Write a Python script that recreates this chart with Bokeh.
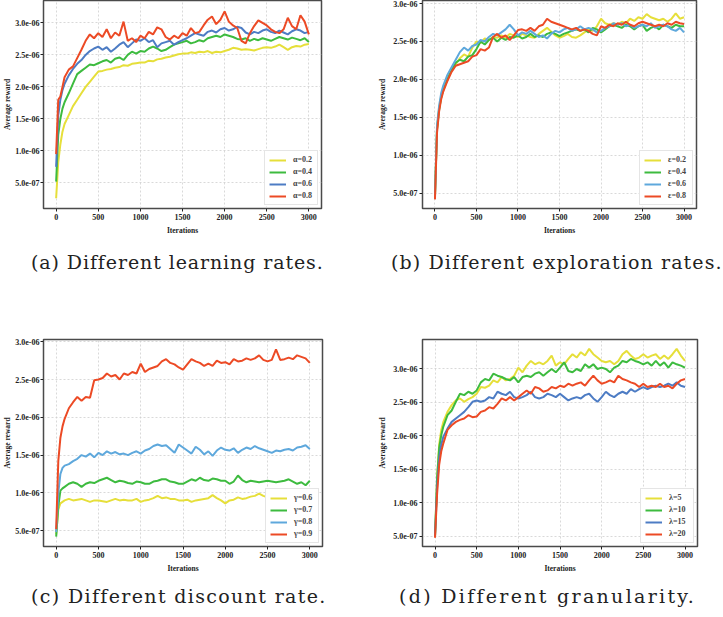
from bokeh.plotting import figure
from bokeh.models import FixedTicker, Legend, LegendItem, Div, Range1d
from bokeh.layouts import column, row
from bokeh.embed import file_html
from bokeh.resources import INLINE

# Iterations
ITER = [0, 25, 50, 75, 100, 150, 200, 250, 300, 350, 400, 450, 500, 550, 600, 650, 700, 750, 800, 850,
        900, 950, 1000, 1050, 1100, 1150, 1200, 1250, 1300, 1350, 1400, 1450, 1500, 1550, 1600, 1650,
        1700, 1750, 1800, 1850, 1900, 1950, 2000, 2050, 2100, 2150, 2200, 2250, 2300, 2350, 2400, 2450,
        2500, 2550, 2600, 2650, 2700, 2750, 2800, 2850, 2900, 2950, 3000]

# values in units of 1e-6
# (a) learning rates
A_02 = [0.26, 0.82, 1.10, 1.30, 1.42, 1.56, 1.70, 1.80, 1.90, 2.00, 2.08, 2.16, 2.24, 2.25, 2.27, 2.28, 2.30, 2.31, 2.34, 2.33,
        2.36, 2.37, 2.38, 2.38, 2.41, 2.40, 2.43, 2.44, 2.46, 2.47, 2.49, 2.51, 2.52, 2.52, 2.54, 2.53,
        2.55, 2.54, 2.56, 2.53, 2.55, 2.54, 2.56, 2.58, 2.61, 2.60, 2.58, 2.59, 2.58, 2.57, 2.59, 2.61,
        2.62, 2.61, 2.63, 2.66, 2.62, 2.58, 2.62, 2.64, 2.63, 2.66, 2.67]
A_04 = [0.52, 1.25, 1.50, 1.66, 1.76, 1.90, 2.05, 2.20, 2.25, 2.30, 2.35, 2.34, 2.37, 2.40, 2.42, 2.38, 2.44, 2.46, 2.42, 2.50,
        2.55, 2.52, 2.56, 2.55, 2.60, 2.63, 2.60, 2.56, 2.58, 2.62, 2.66, 2.68, 2.70, 2.72, 2.68, 2.70,
        2.73, 2.71, 2.76, 2.78, 2.80, 2.78, 2.82, 2.80, 2.78, 2.75, 2.74, 2.76, 2.72, 2.75, 2.73, 2.76,
        2.74, 2.72, 2.75, 2.78, 2.76, 2.74, 2.77, 2.75, 2.73, 2.76, 2.70]
A_06 = [0.75, 1.55, 1.80, 1.95, 2.05, 2.18, 2.28, 2.36, 2.42, 2.50, 2.56, 2.60, 2.63, 2.58, 2.62, 2.55, 2.60, 2.66, 2.70, 2.62,
        2.68, 2.74, 2.72, 2.76, 2.70, 2.73, 2.62, 2.68, 2.70, 2.72, 2.66, 2.70, 2.73, 2.76, 2.80, 2.84,
        2.82, 2.80, 2.86, 2.88, 2.85, 2.90, 2.92, 2.88, 2.90, 2.94, 2.92, 2.85, 2.82, 2.86, 2.84, 2.88,
        2.90, 2.86, 2.84, 2.88, 2.85, 2.82, 2.87, 2.90, 2.88, 2.84, 2.86]
A_08 = [0.95, 1.80, 1.85, 2.00, 2.15, 2.27, 2.32, 2.45, 2.58, 2.72, 2.82, 2.76, 2.84, 2.78, 2.90, 2.76, 2.85, 2.80, 3.02, 2.72,
        2.76, 2.70, 2.80, 2.76, 2.86, 2.82, 2.93, 2.90, 2.78, 2.74, 2.80, 2.76, 2.84, 2.80, 2.92, 2.84,
        2.86, 2.96, 3.05, 3.10, 2.98, 3.05, 3.18, 3.02, 2.96, 2.92, 2.72, 2.68, 2.84, 2.95, 3.04, 3.00,
        2.96, 2.90, 2.86, 2.84, 2.90, 3.08, 2.95, 2.90, 3.12, 3.02, 2.82]

# (b) exploration rates
B_02 = [0.45, 1.35, 1.62, 1.78, 1.88, 2.02, 2.12, 2.20, 2.28, 2.33, 2.30, 2.42, 2.50, 2.48, 2.54, 2.52, 2.56, 2.55, 2.58, 2.55,
        2.60, 2.58, 2.56, 2.60, 2.58, 2.56, 2.55, 2.60, 2.64, 2.68, 2.63, 2.58, 2.55, 2.57, 2.60, 2.56,
        2.55, 2.58, 2.62, 2.66, 2.64, 2.70, 2.80, 2.74, 2.72, 2.74, 2.72, 2.76, 2.74, 2.80, 2.77, 2.82,
        2.80, 2.86, 2.82, 2.80, 2.78, 2.80, 2.76, 2.80, 2.87, 2.80, 2.82]
B_04 = [0.47, 1.35, 1.60, 1.76, 1.86, 2.00, 2.12, 2.22, 2.26, 2.24, 2.30, 2.32, 2.40, 2.50, 2.46, 2.52, 2.55, 2.50, 2.55, 2.52,
        2.56, 2.55, 2.58, 2.54, 2.56, 2.60, 2.56, 2.58, 2.56, 2.60, 2.62, 2.60, 2.57, 2.60, 2.62, 2.64,
        2.66, 2.64, 2.66, 2.62, 2.68, 2.66, 2.62, 2.66, 2.70, 2.72, 2.70, 2.68, 2.72, 2.70, 2.66, 2.70,
        2.72, 2.64, 2.68, 2.70, 2.66, 2.72, 2.70, 2.68, 2.72, 2.70, 2.70]
B_06 = [0.44, 1.40, 1.65, 1.82, 1.92, 2.06, 2.16, 2.26, 2.36, 2.42, 2.38, 2.44, 2.46, 2.52, 2.50, 2.56, 2.60, 2.58, 2.62, 2.66,
        2.72, 2.66, 2.58, 2.62, 2.60, 2.64, 2.60, 2.56, 2.58, 2.54, 2.60, 2.64, 2.62, 2.66, 2.68, 2.64,
        2.66, 2.70, 2.66, 2.68, 2.66, 2.62, 2.64, 2.68, 2.70, 2.74, 2.72, 2.74, 2.70, 2.72, 2.68, 2.70,
        2.72, 2.70, 2.74, 2.68, 2.70, 2.72, 2.70, 2.66, 2.64, 2.68, 2.62]
B_08 = [0.42, 1.30, 1.58, 1.74, 1.84, 1.98, 2.10, 2.18, 2.20, 2.22, 2.24, 2.30, 2.32, 2.40, 2.38, 2.42, 2.56, 2.60, 2.55, 2.58,
        2.52, 2.58, 2.65, 2.66, 2.64, 2.68, 2.64, 2.70, 2.72, 2.80, 2.76, 2.74, 2.72, 2.70, 2.68, 2.66,
        2.68, 2.64, 2.66, 2.64, 2.60, 2.58, 2.70, 2.68, 2.72, 2.70, 2.74, 2.72, 2.76, 2.72, 2.70, 2.74,
        2.76, 2.74, 2.72, 2.70, 2.72, 2.70, 2.74, 2.72, 2.76, 2.74, 2.73]

# (c) discount rates
C_06 = [0.45, 0.78, 0.86, 0.88, 0.90, 0.92, 0.90, 0.91, 0.92, 0.90, 0.88, 0.90, 0.90, 0.89, 0.88, 0.90, 0.92, 0.90, 0.91, 0.90,
        0.90, 0.92, 0.88, 0.90, 0.91, 0.93, 0.96, 0.93, 0.94, 0.92, 0.92, 0.90, 0.90, 0.91, 0.88, 0.90,
        0.91, 0.92, 0.93, 0.97, 0.93, 0.90, 0.86, 0.90, 0.91, 0.94, 0.92, 0.93, 0.95, 0.96, 0.99, 0.96,
        0.94, 0.90, 0.92, 0.93, 0.92, 0.94, 0.93, 0.92, 0.94, 0.93, 0.92]
C_07 = [0.42, 0.82, 1.03, 1.06, 1.08, 1.12, 1.14, 1.12, 1.08, 1.12, 1.14, 1.13, 1.16, 1.18, 1.20, 1.17, 1.14, 1.16, 1.15, 1.13,
        1.12, 1.15, 1.14, 1.12, 1.12, 1.15, 1.16, 1.18, 1.18, 1.15, 1.14, 1.12, 1.12, 1.15, 1.18, 1.16,
        1.20, 1.17, 1.16, 1.19, 1.18, 1.16, 1.16, 1.12, 1.15, 1.23, 1.17, 1.14, 1.16, 1.15, 1.14, 1.15,
        1.16, 1.15, 1.14, 1.15, 1.16, 1.18, 1.15, 1.12, 1.14, 1.10, 1.16]
C_08 = [0.48, 1.00, 1.25, 1.33, 1.36, 1.38, 1.42, 1.45, 1.50, 1.48, 1.52, 1.47, 1.53, 1.50, 1.55, 1.52, 1.54, 1.51, 1.52, 1.50,
        1.53, 1.55, 1.52, 1.56, 1.58, 1.62, 1.64, 1.62, 1.63, 1.58, 1.53, 1.64, 1.60, 1.56, 1.52, 1.61,
        1.57, 1.51, 1.55, 1.49, 1.56, 1.60, 1.57, 1.56, 1.59, 1.53, 1.57, 1.60, 1.58, 1.62, 1.59, 1.57,
        1.55, 1.53, 1.56, 1.55, 1.57, 1.58, 1.56, 1.60, 1.61, 1.63, 1.58]
C_09 = [0.52, 1.42, 1.73, 1.88, 1.98, 2.12, 2.20, 2.27, 2.22, 2.27, 2.26, 2.49, 2.50, 2.52, 2.58, 2.54, 2.56, 2.50, 2.58, 2.56,
        2.60, 2.58, 2.71, 2.60, 2.64, 2.66, 2.68, 2.74, 2.77, 2.72, 2.70, 2.66, 2.63, 2.70, 2.77, 2.74,
        2.72, 2.68, 2.71, 2.68, 2.75, 2.72, 2.73, 2.70, 2.77, 2.74, 2.75, 2.78, 2.76, 2.78, 2.82, 2.76,
        2.74, 2.76, 2.90, 2.76, 2.77, 2.79, 2.77, 2.82, 2.80, 2.78, 2.72]

# (d) granularity
D_5 = [0.49, 1.37, 1.87, 2.09, 2.21, 2.36, 2.46, 2.53, 2.56, 2.51, 2.55, 2.58, 2.63, 2.73, 2.72, 2.75, 2.83, 2.80, 2.88, 2.83,
       2.85, 2.90, 3.02, 2.95, 3.05, 3.12, 3.07, 3.10, 3.07, 3.12, 3.20, 3.05, 3.10, 3.07, 3.15, 3.22,
       3.17, 3.25, 3.20, 3.30, 3.22, 3.17, 3.12, 3.10, 3.12, 3.07, 3.12, 3.22, 3.27, 3.20, 3.15, 3.17,
       3.22, 3.17, 3.20, 3.22, 3.15, 3.20, 3.15, 3.22, 3.30, 3.20, 3.12]
D_10 = [0.50, 1.37, 1.82, 2.01, 2.14, 2.31, 2.38, 2.51, 2.63, 2.61, 2.66, 2.63, 2.68, 2.80, 2.85, 2.83, 2.93, 2.90, 2.88, 2.85,
        2.83, 2.88, 2.80, 2.88, 2.90, 2.88, 2.93, 2.95, 2.90, 2.95, 3.00, 2.95, 3.02, 3.10, 2.97, 2.95,
        3.00, 2.97, 3.07, 3.02, 3.07, 3.00, 3.02, 3.00, 2.95, 3.02, 3.05, 3.12, 3.10, 3.15, 3.12, 3.10,
        3.07, 3.10, 3.05, 3.12, 3.05, 3.10, 3.02, 3.10, 3.07, 3.05, 3.02]
D_15 = [0.50, 1.23, 1.67, 1.87, 1.99, 2.11, 2.21, 2.26, 2.31, 2.36, 2.43, 2.51, 2.53, 2.51, 2.53, 2.58, 2.56, 2.66, 2.63, 2.61,
        2.66, 2.58, 2.56, 2.58, 2.61, 2.66, 2.58, 2.56, 2.58, 2.63, 2.61, 2.58, 2.63, 2.58, 2.53, 2.56,
        2.58, 2.56, 2.61, 2.63, 2.56, 2.51, 2.58, 2.66, 2.61, 2.58, 2.63, 2.66, 2.63, 2.70, 2.66, 2.70,
        2.73, 2.70, 2.73, 2.75, 2.73, 2.75, 2.78, 2.75, 2.80, 2.75, 2.73]
D_20 = [0.48, 1.13, 1.57, 1.77, 1.89, 2.09, 2.16, 2.21, 2.24, 2.26, 2.31, 2.28, 2.29, 2.36, 2.38, 2.43, 2.41, 2.48, 2.56, 2.53,
        2.58, 2.53, 2.58, 2.63, 2.68, 2.63, 2.73, 2.71, 2.66, 2.68, 2.73, 2.71, 2.75, 2.73, 2.78, 2.75,
        2.78, 2.80, 2.75, 2.83, 2.90, 2.83, 2.78, 2.80, 2.83, 2.80, 2.90, 2.85, 2.83, 2.80, 2.78, 2.73,
        2.78, 2.73, 2.75, 2.73, 2.78, 2.73, 2.75, 2.71, 2.78, 2.83, 2.85]

X_TICKS = [0, 500, 1000, 1500, 2000, 2500, 3000]
Y_TICKS = [0.5, 1.0, 1.5, 2.0, 2.5, 3.0]
Y_TICK_LABELS = ["5.0e-07", "1.0e-06", "1.5e-06", "2.0e-06", "2.5e-06", "3.0e-06"]

LABELS_A = ["α=0.2", "α=0.4", "α=0.6", "α=0.8"]
LABELS_B = ["ε=0.2", "ε=0.4", "ε=0.6", "ε=0.8"]
LABELS_C = ["γ=0.6", "γ=0.7", "γ=0.8", "γ=0.9"]
LABELS_D = ["λ=5", "λ=10", "λ=15", "λ=20"]
CAPTIONS = ["(a) Different learning rates.", "(b) Different exploration rates.",
            "(c) Different discount rate.", "(d) Different granularity."]

YELLOW = "#e6df3a"
GREEN = "#3dbb3f"
BLUE = "#4d7cc4"
LBLUE = "#5ea8dc"
RED = "#ec4a25"

SERIF = "Liberation Serif"


def panel(width, height, series, labels, colors, y_lim, mb_top, mb_bottom, mb_right, ystand):
    p = figure(width=width, height=height, output_backend="svg", toolbar_location=None,
               x_range=Range1d(-150, 3150), y_range=Range1d(*y_lim),
               min_border_left=0, min_border_top=mb_top, min_border_bottom=mb_bottom,
               min_border_right=mb_right)
    p.outline_line_color = "#4a4a4a"
    p.outline_line_width = 1.5
    p.grid.grid_line_color = "#cfcfcf"
    p.grid.grid_line_dash = "2 2"
    p.grid.grid_line_width = 0.8
    p.xaxis.ticker = FixedTicker(ticks=X_TICKS)
    p.yaxis.ticker = FixedTicker(ticks=Y_TICKS)
    p.yaxis.major_label_overrides = {t: l for t, l in zip(Y_TICKS, Y_TICK_LABELS)}
    for ax in (p.xaxis, p.yaxis):
        ax.axis_line_color = None
        ax.major_tick_out = 3
        ax.major_tick_in = 0
        ax.minor_tick_out = 0
        ax.minor_tick_in = 0
        ax.major_tick_line_color = "#222222"
        ax.major_label_text_font = SERIF
        ax.major_label_text_font_style = "bold"
        ax.major_label_text_font_size = "8px"
        ax.major_label_text_color = "#222222"
        ax.major_label_standoff = 2
        ax.axis_label_text_font = SERIF
        ax.axis_label_text_font_style = "bold"
        ax.axis_label_text_font_size = "7.5px"
        ax.axis_label_text_color = "#222222"
        ax.axis_label_standoff = 3
    p.yaxis.axis_label_standoff = ystand
    p.yaxis.major_label_standoff = 1 if ystand < 3 else 2
    p.xaxis.axis_label = "Iterations"
    p.yaxis.axis_label = "Average reward"
    items = []
    for ys, lab, col in zip(series, labels, colors):
        r = p.line(ITER, ys, line_color=col, line_width=2.0)
        items.append(LegendItem(label=lab, renderers=[r]))
    leg = Legend(items=items, location="bottom_right")
    leg.label_text_font = SERIF
    leg.label_text_font_style = "bold"
    leg.label_text_font_size = "8px"
    leg.label_height = 8
    leg.glyph_height = 8
    leg.glyph_width = 17
    leg.spacing = 3
    leg.padding = 4
    leg.margin = 3
    leg.label_standoff = 7
    leg.border_line_color = "#cccccc"
    leg.border_line_width = 1
    leg.background_fill_alpha = 1.0
    p.add_layout(leg)
    return p


def caption(text, width, height, pad_top, pad_left, spacing):
    html = ('<div style="padding-top:%dpx;padding-left:%dpx;font-family:\'DejaVu Serif\';'
            'font-size:19px;letter-spacing:%.2fpx;line-height:22px;color:#222;white-space:nowrap;">%s</div>'
            ) % (pad_top, pad_left, spacing, text)
    return Div(text=html, width=width, height=height)


pa = panel(375, 237, [A_02, A_04, A_06, A_08], LABELS_A, [YELLOW, GREEN, BLUE, RED],
           (0.10, 3.35), 0, 26, 54, 0)
pb = panel(332, 237, [B_02, B_04, B_06, B_08], LABELS_B, [YELLOW, GREEN, LBLUE, RED],
           (0.30, 3.04), 0, 26, 11, 3)
pc = panel(375, 241, [C_06, C_07, C_08, C_09], LABELS_C, [YELLOW, GREEN, LBLUE, RED],
           (0.29, 3.03), 5, 26, 53, 0)
pd = panel(332, 241, [D_5, D_10, D_15, D_20], LABELS_D, [YELLOW, GREEN, BLUE, RED],
           (0.35, 3.44), 5, 27, 10, 3)

ca = caption(CAPTIONS[0], 375, 87, 9, 26, 0.9)
cb = caption(CAPTIONS[1], 332, 87, 9, 1, 1.1)
cc = caption(CAPTIONS[2], 375, 34, 5, 26, 1.35)
cd = caption(CAPTIONS[3], 332, 34, 5, 9, 2.3)

layout = column(row(pa, pb), row(ca, cb), row(pc, pd), row(cc, cd))

open("out.html", "w").write(file_html(layout, INLINE))
